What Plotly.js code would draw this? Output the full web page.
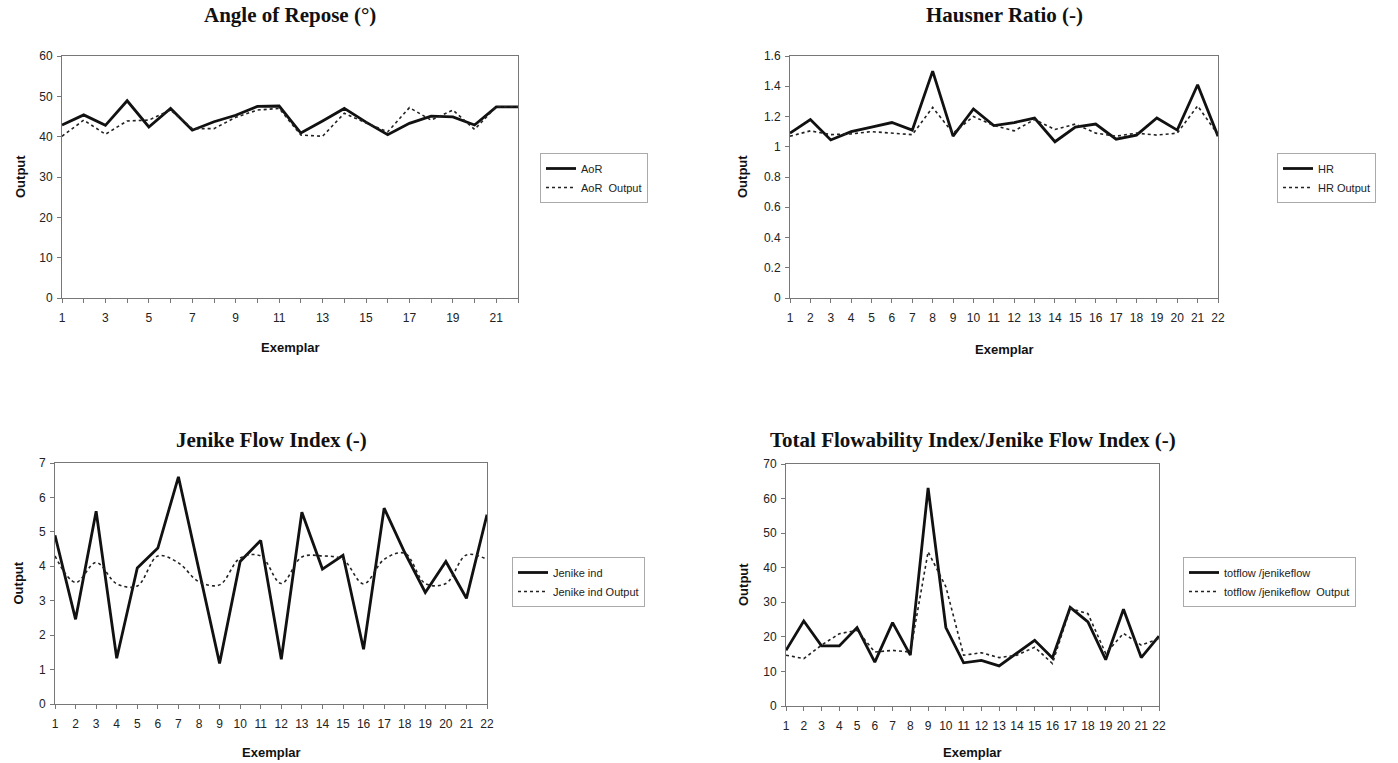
<!DOCTYPE html>
<html>
<head>
<meta charset="utf-8">
<script src="https://cdn.plot.ly/plotly-3.0.1.min.js"></script>
<style>
  html, body { margin: 0; padding: 0; background: #ffffff; }
  #chart { width: 1398px; height: 763px; }
</style>
</head>
<body>
<div id="chart"></div>
<script>
// ---------- data ----------
const exemplars = [1, 2, 3, 4, 5, 6, 7, 8, 9, 10, 11, 12, 13, 14, 15, 16, 17, 18, 19, 20, 21, 22];

const aorActual = [42.9, 45.4, 42.8, 48.9, 42.4, 47.0, 41.6, 43.7, 45.3, 47.5, 47.6, 40.9, 43.9, 47.0, 43.6, 40.5, 43.3, 45.1, 44.9, 42.9, 47.4, 47.4];
const aorOutput = [40.1, 44.1, 40.6, 43.9, 44.1, 46.6, 42.0, 42.0, 44.8, 46.6, 47.0, 40.4, 40.1, 45.8, 43.4, 41.2, 47.2, 44.1, 46.6, 41.8, 47.4, 47.4];

const hrActual = [1.09, 1.18, 1.045, 1.10, 1.13, 1.16, 1.11, 1.50, 1.07, 1.25, 1.14, 1.16, 1.19, 1.033, 1.13, 1.15, 1.05, 1.077, 1.19, 1.11, 1.41, 1.07];
const hrOutput = [1.07, 1.105, 1.08, 1.085, 1.10, 1.09, 1.08, 1.26, 1.09, 1.20, 1.14, 1.105, 1.18, 1.114, 1.15, 1.09, 1.07, 1.09, 1.077, 1.09, 1.27, 1.08];

const jenActual = [4.9, 2.46, 5.6, 1.33, 3.95, 4.53, 6.6, 3.9, 1.18, 4.14, 4.75, 1.3, 5.57, 3.92, 4.32, 1.59, 5.69, 4.4, 3.24, 4.14, 3.07, 5.5];
const jenOutput = [4.3, 3.53, 4.11, 3.49, 3.43, 4.3, 4.1, 3.55, 3.46, 4.24, 4.3, 3.5, 4.27, 4.3, 4.2, 3.49, 4.2, 4.38, 3.5, 3.5, 4.33, 4.2];

const tfActual = [16.1, 24.6, 17.4, 17.4, 22.7, 12.7, 24.1, 14.7, 63.1, 22.7, 12.5, 13.2, 11.6, 15.2, 19.0, 13.9, 28.5, 24.3, 13.4, 28.0, 14.0, 20.2];
const tfOutput = [14.7, 13.7, 17.6, 20.9, 21.9, 15.6, 16.1, 15.6, 44.6, 34.5, 14.7, 15.4, 14.0, 14.7, 17.0, 12.3, 28.2, 26.7, 15.2, 21.0, 17.6, 19.5];

const titles = ['Angle of Repose (°)', 'Hausner Ratio (-)', 'Jenike Flow Index (-)', 'Total Flowability Index/Jenike Flow Index (-)'];
const seriesNames = [
  ['AoR', 'AoR  Output'],
  ['HR', 'HR Output'],
  ['Jenike ind', 'Jenike ind Output'],
  ['totflow /jenikeflow', 'totflow /jenikeflow  Output']
];
const yRanges = [[0, 60], [0, 1.6], [0, 7], [0, 70]];
const yDticks = [10, 0.2, 1, 10];
const xDticks = [2, 1, 1, 1];
const yTitle = 'Output';
const xTitle = 'Exemplar';

// ---------- layout geometry (pixels) ----------
const W = 1398, H = 763;
const boxes = [
  {l: 62, r: 518, t: 56, b: 298},
  {l: 790, r: 1218, t: 56, b: 298},
  {l: 55, r: 487, t: 463, b: 704},
  {l: 786, r: 1159, t: 464, b: 706}
];
const legendPos = [[540, 153], [1277, 153], [512, 557], [1183, 557]];
const titleY = [15, 15, 440, 440];
const yTitleX = [20, 742, 18, 743];
const xTitleY = [347, 349, 752, 752];

const px = v => v / W;
const py = v => 1 - v / H;

const actual = [aorActual, hrActual, jenActual, tfActual];
const output = [aorOutput, hrOutput, jenOutput, tfOutput];

const traces = [];
const layout = {
  width: W, height: H,
  margin: {l: 0, r: 0, t: 0, b: 0},
  paper_bgcolor: '#ffffff',
  plot_bgcolor: '#ffffff',
  font: {family: '"Liberation Sans", Arial, sans-serif', size: 12, color: '#222'},
  annotations: []
};

const sans = '"Liberation Sans", Arial, sans-serif';
const serif = '"Liberation Serif", "Times New Roman", serif';

for (let i = 0; i < 4; i++) {
  const n = i + 1;
  const xa = 'xaxis' + (n === 1 ? '' : n);
  const ya = 'yaxis' + (n === 1 ? '' : n);
  const xr = 'x' + (n === 1 ? '' : n);
  const yr = 'y' + (n === 1 ? '' : n);
  const lg = 'legend' + (n === 1 ? '' : n);
  const b = boxes[i];

  traces.push({
    x: exemplars, y: actual[i], xaxis: xr, yaxis: yr, legend: lg,
    type: 'scatter', mode: 'lines', name: seriesNames[i][0],
    line: {color: '#111', width: 2.8}
  });
  traces.push({
    x: exemplars, y: output[i], xaxis: xr, yaxis: yr, legend: lg,
    type: 'scatter', mode: 'lines', name: seriesNames[i][1],
    line: {color: '#222', width: 1.6, dash: i === 2 ? '3px,3px' : 'dot', shape: i === 2 ? 'spline' : 'linear'}
  });

  layout[xa] = {
    domain: [px(b.l), px(b.r)],
    anchor: yr,
    range: [1, 22],
    tick0: 1, dtick: xDticks[i],
    ticks: 'outside', ticklen: 4, tickcolor: '#777',
    ticklabelstandoff: 5,
    minor: {dtick: 1, tick0: 1, ticks: 'outside', ticklen: 4, tickcolor: '#777'},
    showgrid: false, zeroline: false,
    showline: true, linecolor: '#777', linewidth: 1, mirror: true,
    tickfont: {family: sans, size: 12, color: '#222'},
    fixedrange: true
  };
  layout[ya] = {
    domain: [py(b.b), py(b.t)],
    anchor: xr,
    range: yRanges[i],
    tick0: 0, dtick: yDticks[i],
    ticks: 'outside', ticklen: 4, tickcolor: '#777',
    ticklabelstandoff: 2,
    showgrid: false, zeroline: false,
    showline: true, linecolor: '#777', linewidth: 1, mirror: true,
    tickfont: {family: sans, size: 12, color: '#222'},
    fixedrange: true
  };
  layout[lg] = {
    x: px(legendPos[i][0]), y: py(legendPos[i][1]),
    xanchor: 'left', yanchor: 'top',
    bgcolor: '#ffffff', bordercolor: '#aaa', borderwidth: 1,
    font: {family: sans, size: 11, color: '#222'},
    tracegroupgap: 0, itemwidth: 30
  };

  layout.annotations.push({
    text: '<b>' + titles[i] + '</b>', xref: 'paper', yref: 'paper',
    x: px((b.l + b.r) / 2), y: py(titleY[i]), xanchor: 'center', yanchor: 'middle',
    showarrow: false, font: {family: serif, size: 21, color: '#111'}
  });
  layout.annotations.push({
    text: '<b>' + yTitle + '</b>', xref: 'paper', yref: 'paper',
    x: px(yTitleX[i]), y: py((b.t + b.b) / 2), xanchor: 'center', yanchor: 'middle',
    textangle: -90, showarrow: false, font: {family: sans, size: 13, color: '#111'}
  });
  layout.annotations.push({
    text: '<b>' + xTitle + '</b>', xref: 'paper', yref: 'paper',
    x: px((b.l + b.r) / 2), y: py(xTitleY[i]), xanchor: 'center', yanchor: 'middle',
    showarrow: false, font: {family: sans, size: 13, color: '#111'}
  });
}

Plotly.newPlot('chart', traces, layout, {displayModeBar: false, staticPlot: true});
</script>
</body>
</html>
